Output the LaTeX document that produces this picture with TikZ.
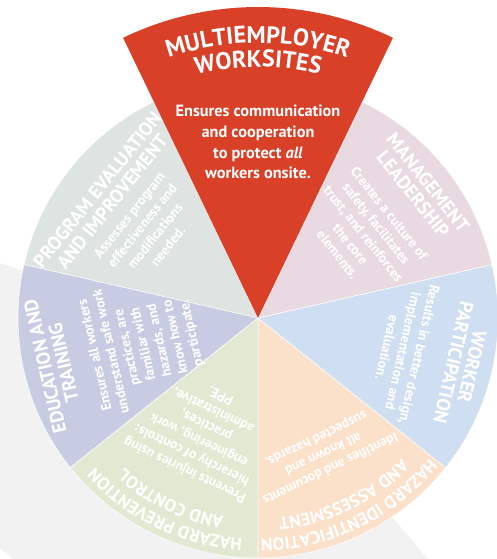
\documentclass[tikz,border=0pt]{standalone}
\usepackage{fontspec}
\setmainfont{PT Sans}
\usetikzlibrary{decorations.text}

\definecolor{wsred}{HTML}{D94028}
\definecolor{evalgray}{HTML}{DDE4E1}
\definecolor{mgmtpink}{HTML}{E9DAE1}
\definecolor{partblue}{HTML}{CFDEF0}
\definecolor{idpeach}{HTML}{FBE0CA}
\definecolor{prevgreen}{HTML}{E2E9D2}
\definecolor{edulilac}{HTML}{C7CCE2}
\definecolor{backgray}{HTML}{F2F2F2}

\begin{document}
\begin{tikzpicture}[x=1pt,y=1pt,
  wedge/.style={fill=#1,draw=white,line width=0.5pt},
  head/.style={text=white,align=center,inner sep=0pt,font=\bfseries\fontsize{19}{19}\selectfont},
  blurb/.style={text=white,align=center,inner sep=0pt,font=\bfseries\fontsize{13.8}{16.5}\selectfont},
  arched/.style={decorate,decoration={text along path,text align=center,text color=white,text={#1}}}]

  \useasboundingbox (-258,-241) rectangle (239,318);
  % grey band behind the wheel
  \fill[backgray] (-258,55) -- (-8,-32) -- (135,-200) -- (170,-241) -- (-245,-241) -- (-258,-230) -- cycle;

  % the six pale wedges
  \draw[wedge=evalgray] (0,0) -- (115.71:240) arc[start angle=115.71,end angle=167.14,radius=240pt] -- cycle;
  \draw[wedge=edulilac] (0,0) -- (167.14:240) arc[start angle=167.14,end angle=218.57,radius=240pt] -- cycle;
  \draw[wedge=prevgreen] (0,0) -- (218.57:240) arc[start angle=218.57,end angle=270,radius=240pt] -- cycle;
  \draw[wedge=idpeach] (0,0) -- (-90:240) arc[start angle=-90,end angle=-38.57,radius=240pt] -- cycle;
  \draw[wedge=partblue] (0,0) -- (-38.57:240) arc[start angle=-38.57,end angle=12.86,radius=240pt] -- cycle;
  \draw[wedge=mgmtpink] (0,0) -- (12.86:240) arc[start angle=12.86,end angle=64.29,radius=240pt] -- cycle;

  % the big red wedge on top
  \fill[wsred] (0,0) -- (64.29:311) arc[start angle=64.29,end angle=115.71,radius=311pt] -- cycle;
  \path[arched={|\bfseries\fontsize{24}{24}\selectfont|MULTIEMPLOYER}] (125:275) arc[start angle=125,end angle=55,radius=275pt];
  \path[arched={|\bfseries\fontsize{24}{24}\selectfont|WORKSITES}] (125:251) arc[start angle=125,end angle=55,radius=251pt];
  \node[text=white,align=center,inner sep=0pt,font=\bfseries\fontsize{16.3}{20.7}\selectfont] (wstext) at (90:176)
    {Ensures communication\\and cooperation\\to protect \textit{all}\\workers onsite.};

  \node[head,rotate=51.43] (evalhead) at (141.43:196) {PROGRAM EVALUATION\\AND IMPROVEMENT};
  \node[blurb,rotate=51.43] (evaltext) at (141.43:140) {Assesses program\\effectiveness and\\modifications\\needed.};

  \node[head,rotate=-51.43] (mgmthead) at (38.57:208) {MANAGEMENT\\LEADERSHIP};
  \node[blurb,rotate=-51.43] (mgmttext) at (38.57:135) {Creates a culture of\\safety, facilitates\\trust, and reinforces\\the core\\elements.};

  \node[head,rotate=-102.86] (parthead) at (-12.86:210) {WORKER\\PARTICIPATION};
  \node[blurb,rotate=-102.86] (parttext) at (-12.86:149) {Results in better design,\\implementation and\\evaluation.};

  \path[arched={|\bfseries\fontsize{17.5}{17.5}\selectfont|HAZARD IDENTIFICATION}] (-19.29:221) arc[start angle=-19.29,end angle=-109.29,radius=221pt];
  \path[arched={|\bfseries\fontsize{17.5}{17.5}\selectfont|AND ASSESSMENT}] (-19.29:201) arc[start angle=-19.29,end angle=-109.29,radius=201pt];
  \node[blurb,rotate=205.71] (idtext) at (-64.29:150) {Identifies and documents\\all known and\\suspected hazards.};

  \path[arched={|\bfseries\fontsize{17.5}{17.5}\selectfont|HAZARD PREVENTION}] (-70.71:221) arc[start angle=-70.71,end angle=-160.71,radius=221pt];
  \path[arched={|\bfseries\fontsize{17.5}{17.5}\selectfont|AND CONTROL}] (-70.71:201) arc[start angle=-70.71,end angle=-160.71,radius=201pt];
  \node[blurb,rotate=154.29] (prevtext) at (-115.71:128) {Prevents injuries using\\hierarchy of controls:\\engineering, work\\practices,\\administrative,\\PPE.};

  \node[head,rotate=102.86] (eduhead) at (192.86:209) {EDUCATION AND\\TRAINING};
  \node[blurb,rotate=102.86] (edutext) at (192.86:117) {Ensures all workers\\understand safe work\\practices, are\\familiar with\\hazards, and\\know how to\\participate.};
\end{tikzpicture}
\end{document}
